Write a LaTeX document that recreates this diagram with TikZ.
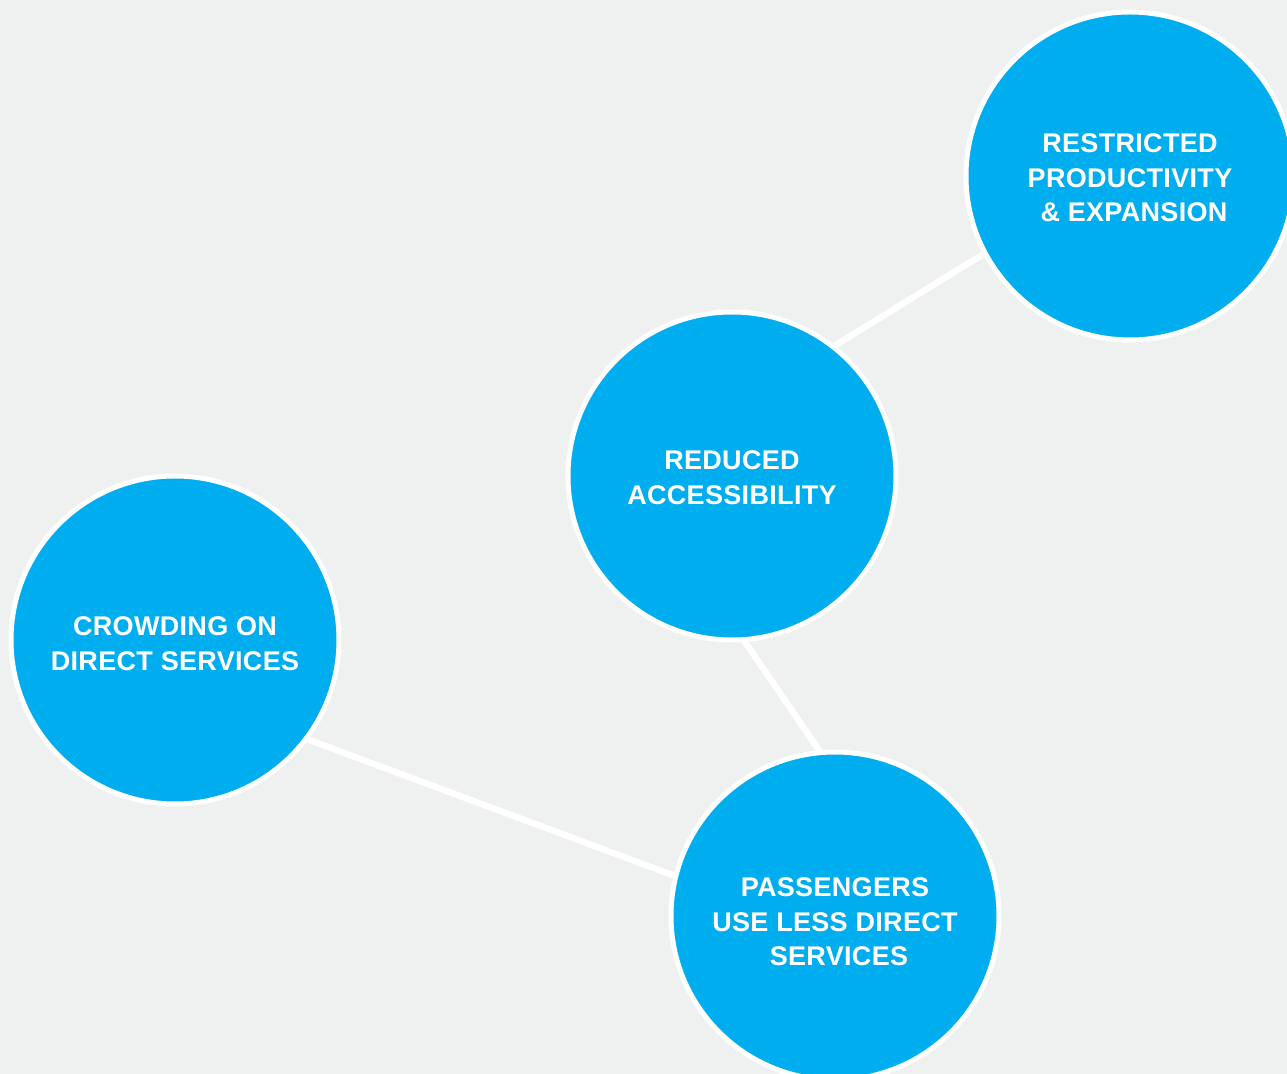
\documentclass[tikz,border=0pt]{standalone}
\usepackage{fontspec}
\setmainfont{Liberation Sans}
\usepackage{tkz-graph}
\usetikzlibrary{backgrounds}
\definecolor{causeblue}{HTML}{00AEEF}
\definecolor{paper}{HTML}{EFF1F0}
% pushes a label down by #1 inside its circle
\newcommand\Drop[1]{\rule{0pt}{\dimexpr\fontcharht\font`E+2\dimexpr#1\relax\relax}}

\begin{document}
\begin{tikzpicture}[x=0.5pt,y=-0.5pt]
		\useasboundingbox (0,0) rectangle (1287,1074);
		\SetVertexNormal[Shape = circle,MinSize=164pt,LineWidth=2.5pt,
		LineColor=white,FillColor=causeblue,TextColor=white,InnerSep=0pt]
		\tikzset{VertexStyle/.append style={align=center,
				font=\fontsize{13.5pt}{17.25pt}\selectfont\bfseries\addfontfeature{LetterSpace=1.2}}}
		\SetUpEdge[lw=3.2pt,color=white]
		\tikzset{EdgeStyle/.append style={line width=3.2pt}}
		%%%%%%%%%%%%%%%%% vertices %%%%%%%%%%%%%%%%%%%
		%  x,y in pixels from the top left corner
		\Vertex[x=1130,y=176,L={\Drop{1pt}RESTRICTED\\PRODUCTIVITY\\\hspace{4pt}\& EXPANSION}]{Restrict}
		\Vertex[x=732,y=476,L={\Drop{1pt}REDUCED\\ACCESSIBILITY}]{Reduced}
		\Vertex[x=175,y=640,L={\Drop{2pt}CROWDING ON\\DIRECT SERVICES}]{Crowd}
		\Vertex[x=835,y=916,L={\Drop{3pt}PASSENGERS\\USE LESS DIRECT\\\hspace{4pt}SERVICES}]{Passeng}
		
		%%%%%%%%%%%%%%%%% edges %%%%%%%%%%%%%%%%%%%%%%%
		% behind the circles, ends on the white rims
		\begin{pgfonlayer}{background}
			\fill[paper] (0,0) rectangle (1287,1074);
			\Edge(Reduced.52)(Restrict.208)
			\Edge(Reduced.274)(Passeng.95)
			\Edge(Crowd.323)(Passeng.166)
		\end{pgfonlayer}
	\end{tikzpicture}
\end{document}
